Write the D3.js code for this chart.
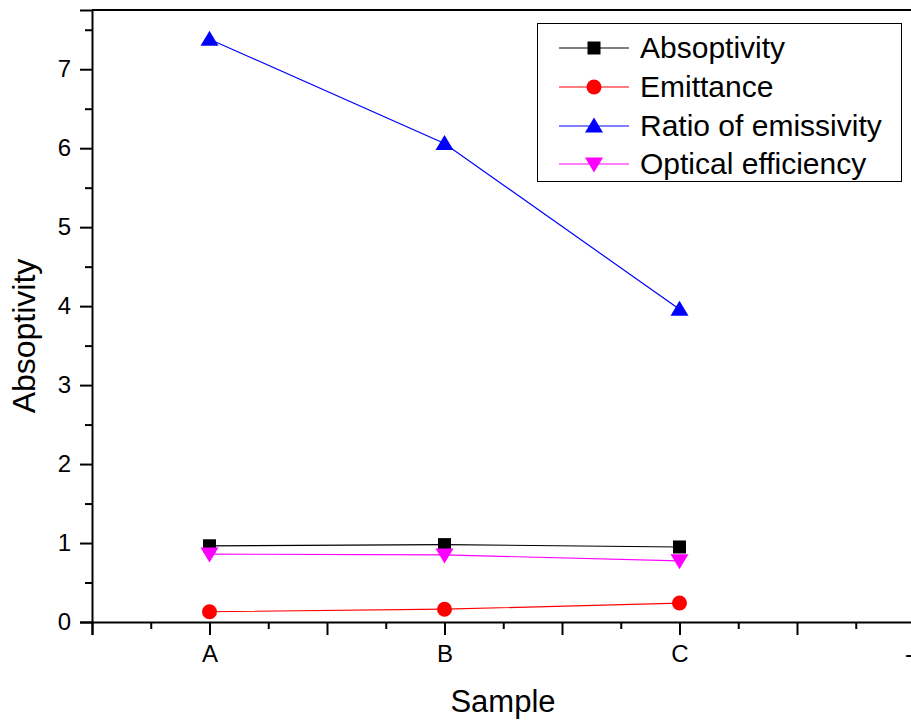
<!DOCTYPE html>
<html>
<head>
<meta charset="utf-8">
<script src="https://cdn.jsdelivr.net/npm/d3@7"></script>
<style>
  html, body { margin: 0; padding: 0; background: #fff; overflow: hidden; }
  svg { display: block; font-family: "Liberation Sans", Arial, sans-serif; }
</style>
</head>
<body>
<svg id="chart" width="911" height="720"></svg>
<script>
// Sample categories and their positions on the x axis
const categories = ["A", "B", "C"];
const xTickLabels = ["A", "B", "C", "-"];
const yTicks = [0, 1, 2, 3, 4, 5, 6, 7];

// Measured values per sample
const absoptivity = [0.965, 0.98, 0.95];
const emittance = [0.13, 0.162, 0.24];
const ratioOfEmissivity = [7.38, 6.06, 3.96];
const opticalEfficiency = [0.86, 0.85, 0.775];

const seriesNames = ["Absoptivity", "Emittance", "Ratio of emissivity", "Optical efficiency"];

const series = [
  { name: seriesNames[0], values: absoptivity, color: "#000000", symbol: "square" },
  { name: seriesNames[1], values: emittance, color: "#ff0000", symbol: "circle" },
  { name: seriesNames[2], values: ratioOfEmissivity, color: "#0000ff", symbol: "up" },
  { name: seriesNames[3], values: opticalEfficiency, color: "#ff00ff", symbol: "down" }
];

const svg = d3.select("#chart");
const plotLeft = 92, plotTop = 10, plotBottom = 622;

// x runs from 0.5 to 4.5 category units; the right part falls beyond the page edge
const x = d3.scaleLinear().domain([0.5, 4.5]).range([plotLeft, plotLeft + 940]);
const y = d3.scaleLinear().domain([0, 7.75]).range([plotBottom, plotTop]);

// Marker shapes
function marker(sel, symbol, color) {
  if (symbol === "square") {
    sel.append("rect").attr("x", -6.5).attr("y", -6.5).attr("width", 13).attr("height", 13).attr("fill", color);
  } else if (symbol === "circle") {
    sel.append("circle").attr("r", 7.5).attr("fill", color);
  } else if (symbol === "up") {
    sel.append("path").attr("d", "M0,-8.5L9,6.5L-9,6.5Z").attr("fill", color);
  } else {
    sel.append("path").attr("d", "M0,8.5L9,-6.5L-9,-6.5Z").attr("fill", color);
  }
}

// Lines and markers
const line = d3.line().x((d, i) => x(i + 1)).y(d => y(d));
series.forEach(s => {
  svg.append("path")
    .datum(s.values)
    .attr("d", line)
    .attr("fill", "none")
    .attr("stroke", s.color)
    .attr("stroke-width", 1.2);
});
series.forEach(s => {
  s.values.forEach((v, i) => {
    const g = svg.append("g").attr("transform", `translate(${x(i + 1)},${y(v)})`);
    marker(g, s.symbol, s.color);
  });
});

// X axis: major ticks every 0.5 (labels on whole categories), minor every 0.25
const xMajor = d3.range(0.5, 4.51, 0.5);
const xMinor = d3.range(0.75, 4.5, 0.5);
const xAxis = d3.axisBottom(x)
  .tickValues(xMajor)
  .tickSize(13)
  .tickPadding(10)
  .tickFormat(d => Number.isInteger(d) ? xTickLabels[d - 1] : "");
const gx = svg.append("g").attr("transform", `translate(0,${plotBottom})`).call(xAxis);
// the last label sits at the page edge; pull it in so it stays readable
gx.selectAll(".tick text").filter(d => d === 4).attr("dx", -6);
svg.append("g").attr("transform", `translate(0,${plotBottom})`)
  .call(d3.axisBottom(x).tickValues(xMinor).tickSize(7).tickFormat(""))
  .call(g => g.select(".domain").remove());

// Y axis: major ticks every 1, minor every 0.5
const yAxis = d3.axisLeft(y).tickValues(yTicks).tickSize(12).tickPadding(9).tickFormat(d3.format("d"));
svg.append("g").attr("transform", `translate(${plotLeft},0)`).call(yAxis);
svg.append("g").attr("transform", `translate(${plotLeft},0)`)
  .call(d3.axisLeft(y).tickValues(d3.range(0.5, 7.6, 1)).tickSize(7).tickFormat(""))
  .call(g => g.select(".domain").remove());

svg.selectAll(".domain").attr("stroke", "#000").attr("stroke-width", 2);
svg.selectAll(".tick line").attr("stroke", "#000").attr("stroke-width", 2);
svg.selectAll(".tick text")
  .style("font-size", "24px")
  .style("font-family", "'Liberation Sans', Arial, sans-serif")
  .style("fill", "#000");

// Frame line along the top of the plot
svg.append("line")
  .attr("x1", plotLeft).attr("x2", x(4.5))
  .attr("y1", plotTop).attr("y2", plotTop)
  .attr("stroke", "#000").attr("stroke-width", 2);

// Axis titles
svg.append("text")
  .attr("x", 503).attr("y", 712)
  .attr("text-anchor", "middle")
  .attr("font-size", 31)
  .text("Sample");
svg.append("text")
  .attr("transform", "translate(35,336) rotate(-90)")
  .attr("text-anchor", "middle")
  .attr("font-size", 32)
  .text("Absoptivity");

// Legend
const legend = svg.append("g");
legend.append("rect")
  .attr("x", 537.5).attr("y", 23.5).attr("width", 364).attr("height", 158)
  .attr("fill", "#fff").attr("stroke", "#000").attr("stroke-width", 1);
const rowY = [48, 87, 126, 164];
series.forEach((s, i) => {
  const row = legend.append("g").attr("transform", `translate(0,${rowY[i]})`);
  row.append("line").attr("x1", 559).attr("x2", 629).attr("y1", 0).attr("y2", 0)
    .attr("stroke", s.color).attr("stroke-width", 1.2);
  const m = row.append("g").attr("transform", "translate(594,0)");
  marker(m, s.symbol, s.color);
  row.append("text").attr("x", 640).attr("y", 10).attr("font-size", 30).text(s.name);
});
</script>
</body>
</html>
